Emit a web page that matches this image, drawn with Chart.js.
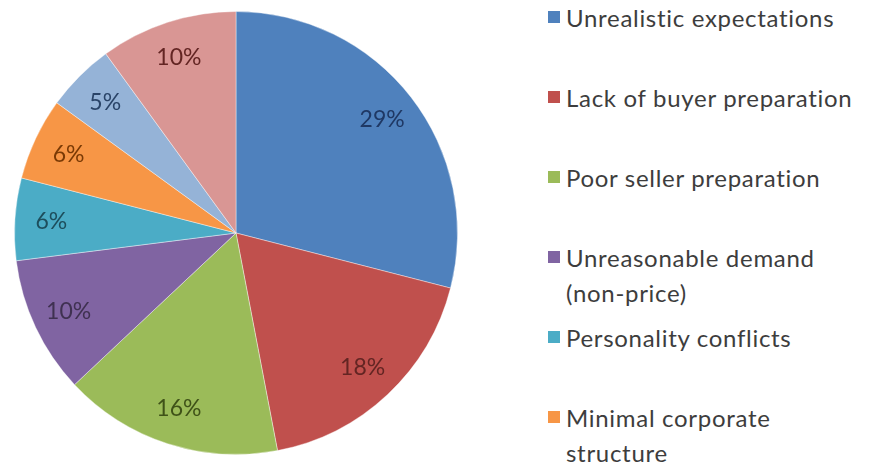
<!DOCTYPE html>
<html>
<head>
<meta charset="utf-8">
<script src="https://cdn.jsdelivr.net/npm/chart.js@4"></script>
<style>
  html, body { margin: 0; padding: 0; background: #fff; }
  #wrap { position: relative; width: 874px; height: 462px; overflow: hidden; }
  #pieBox { position: absolute; left: 0; top: 0; width: 472px; height: 462px; }
  #legend { position: absolute; left: 548px; top: 0; width: 326px; font-family: Lato, "Open Sans", sans-serif; font-size: 24px; letter-spacing: 0.7px; color: #3d3d3d; }
  .item { position: relative; height: 80px; line-height: 35px; padding-left: 18px; white-space: nowrap; }
  .item .sw { position: absolute; left: 0; top: 11px; width: 12px; height: 12px; }
</style>
</head>
<body>
<div id="wrap">
  <div id="pieBox"><canvas id="pie"></canvas></div>
  <div id="legend"></div>
</div>
<script>
// Chart data
const labels = [
    ['Unrealistic expectations'],
    ['Lack of buyer preparation'],
    ['Poor seller preparation'],
    ['Unreasonable demand', '(non-price)'],
    ['Personality conflicts'],
    ['Minimal corporate', 'structure'],
    ['Financing problems'],
    ['Other']
];
const shares = [29, 18, 16, 10, 6, 6, 5, 10];
const sliceColors = ['#4F81BD', '#C0504D', '#9BBB59', '#8064A2', '#4BACC6', '#F79646', '#95B3D7', '#D99694'];
const labelColors = ['#1F3864', '#632523', '#3F5218', '#3F3151', '#1D4E5C', '#7A3A05', '#2A4468', '#632523'];

// Build the legend
const legend = document.getElementById('legend');
labels.forEach(function(lines, i) {
    const item = document.createElement('div');
    item.className = 'item';
    item.innerHTML = '<span class="sw" style="background:' + sliceColors[i] + '"></span>' + lines.join('<br>');
    legend.appendChild(item);
});

// Percentage labels drawn in the outer part of each slice
const pctLabels = {
    id: 'pctLabels',
    afterDatasetsDraw(chart) {
        const ctx = chart.ctx;
        const meta = chart.getDatasetMeta(0);
        ctx.save();
        ctx.font = '23px Lato, "Open Sans", sans-serif';
        ctx.textAlign = 'center';
        ctx.textBaseline = 'middle';
        meta.data.forEach(function(arc, i) {
            const p = arc.getProps(['x', 'y', 'startAngle', 'endAngle', 'outerRadius']);
            const mid = (p.startAngle + p.endAngle) / 2;
            const r = p.outerRadius * 0.835;
            ctx.fillStyle = labelColors[i];
            ctx.fillText(shares[i] + '%', p.x + Math.cos(mid) * r, p.y + Math.sin(mid) * r);
        });
        ctx.restore();
    }
};

new Chart(document.getElementById('pie').getContext('2d'), {
    type: 'pie',
    data: {
        labels: labels.map(function(l) { return l.join(' '); }),
        datasets: [{
            data: shares,
            backgroundColor: sliceColors,
            borderColor: 'rgba(255,255,255,0.4)',
            borderWidth: 1
        }]
    },
    options: {
        responsive: true,
        maintainAspectRatio: false,
        animation: false,
        layout: { padding: { top: 11, bottom: 7, left: 14, right: 14 } },
        plugins: {
            legend: { display: false },
            tooltip: { enabled: false }
        }
    },
    plugins: [pctLabels]
});
</script>
</body>
</html>
